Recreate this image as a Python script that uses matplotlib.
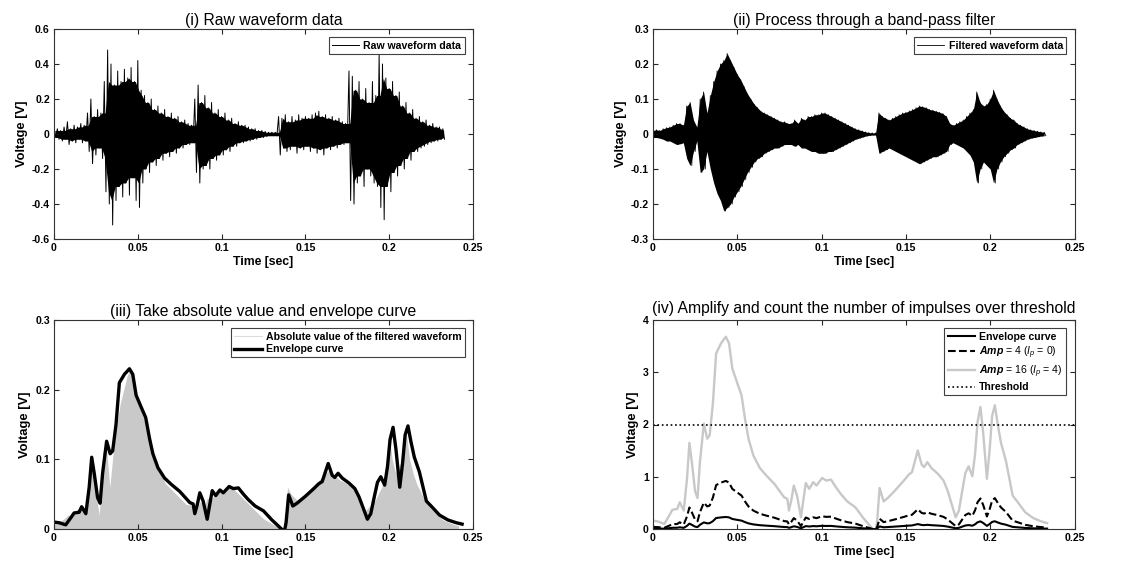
import numpy as np
import matplotlib
matplotlib.use("Agg")
import matplotlib.pyplot as plt
from matplotlib.lines import Line2D

plt.rcParams['font.family'] = ['Liberation Sans', 'DejaVu Sans']
plt.rcParams['axes.unicode_minus'] = False
plt.rcParams['mathtext.fontset'] = 'custom'
plt.rcParams['mathtext.rm'] = 'Liberation Sans'
plt.rcParams['mathtext.it'] = 'Liberation Sans:italic'
plt.rcParams['mathtext.bf'] = 'Liberation Sans:bold'
plt.rcParams['mathtext.bfit'] = 'Liberation Sans:italic:bold'

# ---- data ---------------------------------------------------------------
# waveform samples every 2 ms (positive / negative peak in each slot)
dt = 0.002
dt_iii = 0.00208   # panel (iii) was plotted on a slightly stretched time base

raw_hi = [0.02, 0.03, 0.02, 0.04, 0.07, 0.03, 0.05, 0.04, 0.06, 0.05,
          0.12, 0.20, 0.10, 0.14, 0.12, 0.30, 0.48, 0.40, 0.28, 0.36,
          0.30, 0.37, 0.32, 0.38, 0.30, 0.42, 0.25, 0.22, 0.18, 0.20,
          0.14, 0.16, 0.12, 0.14, 0.10, 0.12, 0.09, 0.10, 0.07, 0.08,
          0.06, 0.05, 0.20, 0.28, 0.18, 0.22, 0.15, 0.18, 0.12, 0.14,
          0.10, 0.12, 0.08, 0.09, 0.06, 0.07, 0.05, 0.05, 0.04, 0.03,
          0.03, 0.02, 0.02, 0.015, 0.01, 0.01, 0.01, 0.10, 0.09, 0.11,
          0.07, 0.10, 0.08, 0.11, 0.09, 0.10, 0.09, 0.11, 0.12, 0.13,
          0.10, 0.11, 0.09, 0.10, 0.08, 0.09, 0.07, 0.06, 0.36, 0.33,
          0.25, 0.30, 0.20, 0.26, 0.18, 0.30, 0.22, 0.46, 0.40, 0.32,
          0.26, 0.30, 0.22, 0.24, 0.16, 0.18, 0.12, 0.14, 0.09, 0.10,
          0.07, 0.08, 0.05, 0.06, 0.04, 0.04, 0.03]
raw_lo = [-0.02, -0.03, -0.04, -0.03, -0.06, -0.04, -0.05, -0.03, -0.05, -0.04,
          -0.10, -0.17, -0.12, -0.08, -0.14, -0.33, -0.40, -0.52, -0.38, -0.30,
          -0.36, -0.28, -0.35, -0.25, -0.38, -0.42, -0.28, -0.20, -0.22, -0.16,
          -0.18, -0.14, -0.15, -0.11, -0.13, -0.10, -0.11, -0.08, -0.08, -0.06,
          -0.06, -0.05, -0.22, -0.28, -0.20, -0.18, -0.20, -0.14, -0.15, -0.12,
          -0.12, -0.09, -0.10, -0.07, -0.07, -0.05, -0.05, -0.04, -0.04, -0.03,
          -0.03, -0.02, -0.02, -0.015, -0.01, -0.01, -0.01, -0.12, -0.08, -0.10,
          -0.09, -0.07, -0.11, -0.08, -0.09, -0.07, -0.10, -0.08, -0.11, -0.09,
          -0.12, -0.08, -0.09, -0.07, -0.08, -0.06, -0.06, -0.05, -0.38, -0.40,
          -0.28, -0.24, -0.30, -0.20, -0.24, -0.28, -0.30, -0.42, -0.49, -0.30,
          -0.33, -0.22, -0.24, -0.18, -0.20, -0.14, -0.15, -0.10, -0.10, -0.08,
          -0.07, -0.06, -0.05, -0.04, -0.04, -0.03, -0.03]

filt_hi = [0.01, 0.012, 0.01, 0.015, 0.018, 0.02, 0.025, 0.03, 0.03, 0.025,
           0.08, 0.09, 0.04, 0.02, 0.10, 0.12, 0.06, 0.11, 0.15, 0.18,
           0.20, 0.21, 0.23, 0.21, 0.19, 0.17, 0.155, 0.135, 0.115, 0.10,
           0.085, 0.075, 0.065, 0.06, 0.055, 0.05, 0.045, 0.04, 0.035, 0.035,
           0.03, 0.03, 0.04, 0.03, 0.045, 0.04, 0.05, 0.05, 0.055, 0.055,
           0.06, 0.06, 0.055, 0.05, 0.045, 0.04, 0.035, 0.03, 0.025, 0.02,
           0.015, 0.012, 0.009, 0.006, 0.004, 0.003, 0.003, 0.06, 0.05, 0.045,
           0.04, 0.045, 0.05, 0.055, 0.06, 0.062, 0.066, 0.07, 0.075, 0.08,
           0.078, 0.075, 0.07, 0.068, 0.065, 0.062, 0.058, 0.05, 0.03, 0.025,
           0.03, 0.035, 0.04, 0.05, 0.06, 0.07, 0.12, 0.09, 0.08, 0.085,
           0.10, 0.125, 0.10, 0.08, 0.065, 0.055, 0.045, 0.04, 0.03, 0.025,
           0.02, 0.015, 0.012, 0.01, 0.008, 0.006, 0.005]
filt_lo = [-0.01, -0.01, -0.012, -0.015, -0.02, -0.02, -0.025, -0.03, -0.028, -0.025,
           -0.07, -0.09, -0.05, -0.02, -0.11, -0.10, -0.05, -0.10, -0.14, -0.17,
           -0.19, -0.22, -0.21, -0.20, -0.18, -0.165, -0.15, -0.13, -0.11, -0.095,
           -0.08, -0.07, -0.065, -0.055, -0.05, -0.045, -0.04, -0.04, -0.035, -0.03,
           -0.03, -0.03, -0.035, -0.03, -0.04, -0.04, -0.045, -0.05, -0.05, -0.055,
           -0.055, -0.055, -0.05, -0.05, -0.045, -0.04, -0.035, -0.03, -0.025, -0.02,
           -0.015, -0.012, -0.009, -0.006, -0.004, -0.003, -0.003, -0.055, -0.05, -0.045,
           -0.04, -0.045, -0.05, -0.055, -0.06, -0.065, -0.07, -0.075, -0.08, -0.085,
           -0.08, -0.075, -0.07, -0.065, -0.065, -0.06, -0.055, -0.05, -0.03, -0.025,
           -0.03, -0.035, -0.04, -0.05, -0.06, -0.08, -0.14, -0.10, -0.08, -0.09,
           -0.10, -0.14, -0.10, -0.08, -0.065, -0.055, -0.045, -0.04, -0.03, -0.025,
           -0.02, -0.015, -0.012, -0.01, -0.008, -0.006, -0.005]

# envelope curve, time as drawn in panel (iii)
env_t = [0.000, 0.003, 0.007, 0.010, 0.012, 0.015, 0.0165, 0.019, 0.021, 0.0225,
         0.024, 0.026, 0.0275, 0.029, 0.0314, 0.0335, 0.035, 0.037, 0.039, 0.042,
         0.045, 0.047, 0.049, 0.052, 0.0547, 0.057, 0.059, 0.062, 0.066, 0.070,
         0.075, 0.078, 0.081, 0.083, 0.084, 0.0855, 0.087, 0.089, 0.0914, 0.093,
         0.0944, 0.0965, 0.099, 0.101, 0.1045, 0.107, 0.110, 0.113, 0.116, 0.120,
         0.125, 0.130, 0.134, 0.1365, 0.1375, 0.1385, 0.140, 0.1425, 0.145, 0.150,
         0.155, 0.158, 0.160, 0.1636, 0.166, 0.1675, 0.1695, 0.172, 0.176, 0.1795,
         0.182, 0.1845, 0.187, 0.189, 0.191, 0.193, 0.195, 0.1973, 0.199, 0.2005,
         0.2023, 0.204, 0.2063, 0.208, 0.2095, 0.2112, 0.213, 0.215, 0.218, 0.2222,
         0.225, 0.230, 0.235, 0.240, 0.2435]
env_v = [0.010, 0.009, 0.006, 0.016, 0.023, 0.024, 0.032, 0.022, 0.060, 0.103,
         0.080, 0.045, 0.037, 0.080, 0.126, 0.108, 0.112, 0.150, 0.210, 0.222,
         0.230, 0.222, 0.192, 0.175, 0.160, 0.130, 0.108, 0.088, 0.073, 0.064,
         0.054, 0.046, 0.038, 0.036, 0.022, 0.035, 0.052, 0.040, 0.014, 0.036,
         0.055, 0.048, 0.056, 0.052, 0.061, 0.058, 0.059, 0.050, 0.042, 0.033,
         0.026, 0.013, 0.004, -0.002, -0.004, 0.010, 0.049, 0.033, 0.037, 0.047,
         0.058, 0.065, 0.068, 0.094, 0.077, 0.074, 0.080, 0.073, 0.066, 0.058,
         0.046, 0.030, 0.014, 0.022, 0.045, 0.067, 0.075, 0.063, 0.090, 0.128,
         0.146, 0.115, 0.060, 0.095, 0.135, 0.148, 0.125, 0.103, 0.082, 0.040,
         0.033, 0.020, 0.013, 0.009, 0.007]
env_time_ratio_iv = 0.96   # (iv) uses the 2 ms clock of panels (i)/(ii)

amp_low = 4
amp_high = 16
threshold = 2

x_ticks = [0, 0.05, 0.1, 0.15, 0.2, 0.25]

# ---- helpers --------------------------------------------------------------
def zigzag(t, hi, lo, half):
    x = np.column_stack([t, t + half]).ravel()
    y = np.column_stack([hi, lo]).ravel()
    return x, y

def style_axes(ax, yticks, title, pad=3):
    ax.set_xlim(0, 0.25)
    ax.set_ylim(yticks[0], yticks[-1])
    ax.set_xticks(x_ticks)
    ax.set_xticklabels([f"{v:g}" for v in x_ticks])
    ax.set_yticks(yticks)
    ax.set_yticklabels([f"{v:g}" for v in yticks])
    ax.tick_params(direction='in', top=True, right=True, length=3.5, width=0.8,
                   labelsize=7.6, pad=3, colors='0.15')
    for lab in ax.get_xticklabels() + ax.get_yticklabels():
        lab.set_fontweight('bold')
        lab.set_color('black')
    for s in ax.spines.values():
        s.set_linewidth(0.8)
        s.set_color('0.2')
    ax.set_xlabel("Time [sec]", fontsize=8.8, fontweight='bold', labelpad=2)
    ax.set_ylabel("Voltage [V]", fontsize=9.4, fontweight='bold', labelpad=3)
    ax.set_title(title, fontsize=11.3, pad=pad)

def legend(ax, **kw):
    lg = ax.legend(loc='upper right', fancybox=False, edgecolor='0.25',
                   framealpha=1, borderpad=0.3, handlelength=2.6,
                   handletextpad=0.4, borderaxespad=0.8, labelspacing=0.25,
                   prop={'size': 7.6, 'weight': 'bold'}, **kw)
    lg.get_frame().set_linewidth(0.8)
    return lg

def core(v):
    # smallest of each peak and its neighbours: the dense inner band
    v = np.abs(np.array(v))
    return np.minimum.reduce([v, np.roll(v, 1), np.roll(v, -1)])

t_wave = np.arange(len(raw_hi)) * dt
t_wave_iii = np.arange(len(filt_hi)) * dt_iii
env_t = np.array(env_t)
env_v = np.array(env_v)

fig = plt.figure(figsize=(11.37, 5.64), dpi=100)
W, H = 1137, 564
def box(l, t, r, b):
    return [l / W, 1 - b / H, (r - l) / W, (b - t) / H]

ax1 = fig.add_axes(box(54, 29, 473, 239))
ax2 = fig.add_axes(box(653, 29, 1074.5, 239))
ax3 = fig.add_axes(box(54, 320, 473, 529))
ax4 = fig.add_axes(box(653, 320, 1074.5, 529))

# (i) raw waveform
ax1.fill_between(t_wave + dt / 4, -core(raw_lo), core(raw_hi), color='k', lw=0)
x, y = zigzag(t_wave, raw_hi, raw_lo, dt / 2)
ax1.plot(x, y, color='k', lw=0.7, label="Raw waveform data")
style_axes(ax1, [-0.6, -0.4, -0.2, 0, 0.2, 0.4, 0.6], "(i) Raw waveform data")
legend(ax1)

# (ii) filtered waveform
ax2.fill_between(t_wave, filt_lo, filt_hi, color='k', lw=0)
x, y = zigzag(t_wave, filt_hi, filt_lo, dt / 2)
ax2.plot(x, y, color='k', lw=0.6, label="Filtered waveform data")
style_axes(ax2, [-0.3, -0.2, -0.1, 0, 0.1, 0.2, 0.3],
           "(ii) Process through a band-pass filter")
legend(ax2)

# (iii) absolute value + envelope
abs_peak = np.maximum(np.array(filt_hi), -np.array(filt_lo))
ax3.fill_between(t_wave_iii, 0, abs_peak, color='#c9c9c9', lw=0)
ax3.plot(env_t, env_v, color='k', lw=2.4, solid_joinstyle='round')
style_axes(ax3, [0, 0.1, 0.2, 0.3],
           "(iii) Take absolute value and envelope curve")
h_abs = Line2D([], [], color='#dddddd', lw=0.8)
h_env = Line2D([], [], color='k', lw=2.4)
legend(ax3, handles=[h_abs, h_env],
       labels=["Absolute value of the filtered waveform", "Envelope curve"])

# (iv) amplification and threshold
t_iv = env_t * env_time_ratio_iv
ax4.plot(t_iv, env_v * amp_high, color='#c8c8c8', lw=1.7,
         label=r"$\mathbfit{Amp}$ = 16 ($\mathit{I_p}$ = 4)")
ax4.plot(t_iv, env_v * amp_low, color='k', lw=1.5, ls='--',
         label=r"$\mathbfit{Amp}$ = 4 ($\mathit{I_p}$ = 0)")
ax4.plot(t_iv, env_v, color='k', lw=1.5, label="Envelope curve")
ax4.axhline(threshold, color='k', lw=1.2, ls=':', label="Threshold")
style_axes(ax4, [0, 1, 2, 3, 4],
           "(iv) Amplify and count the number of impulses over threshold", pad=5)
hs, ls = ax4.get_legend_handles_labels()
order = [2, 1, 0, 3]
lg4 = legend(ax4, handles=[hs[i] for i in order], labels=[ls[i] for i in order])
for txt in lg4.get_texts()[1:3]:
    txt.set_fontweight('normal')

fig.savefig("out.png", dpi=100)
